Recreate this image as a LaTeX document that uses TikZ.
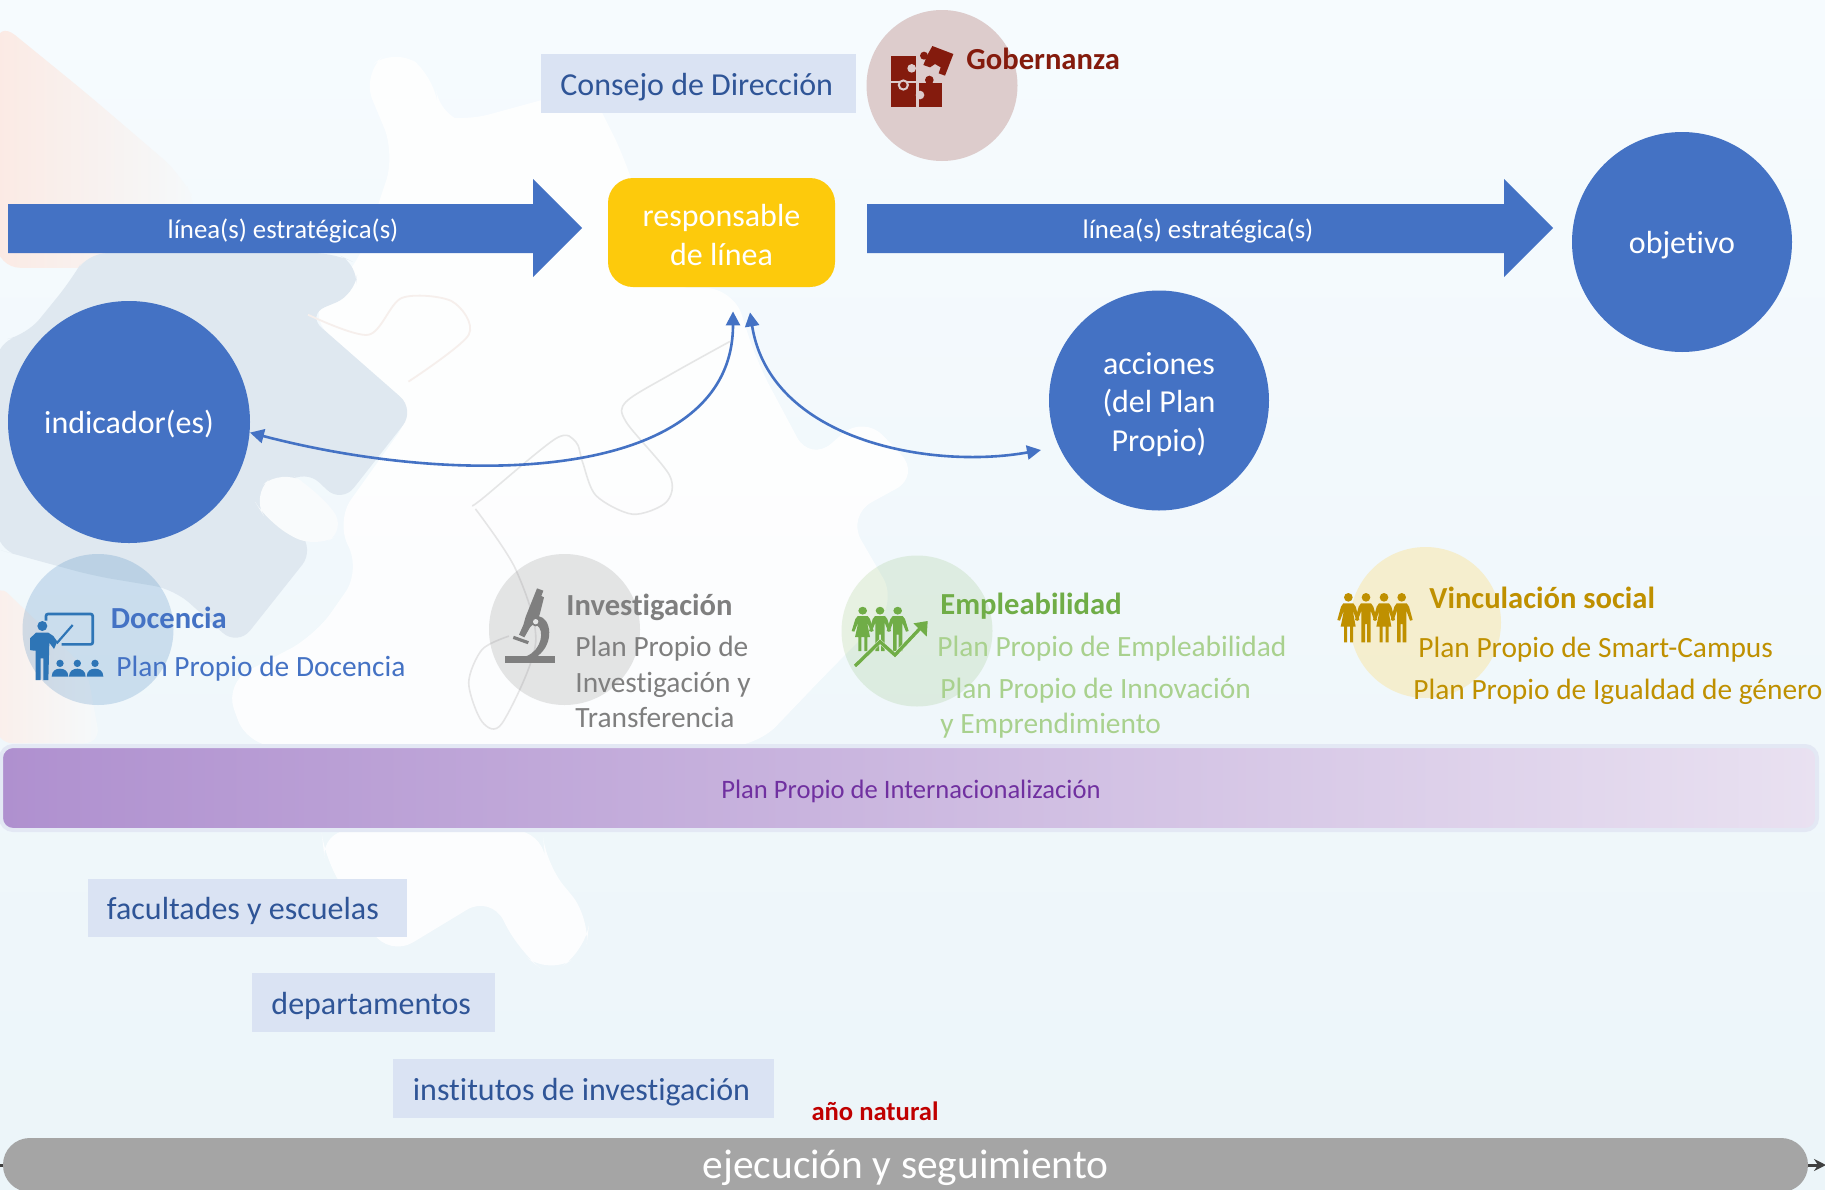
\documentclass[tikz,border=0pt]{standalone}
\usepackage{fontspec}
\setmainfont[Ligatures=NoCommon]{Carlito}
\usetikzlibrary{arrows.meta,calc}
\definecolor{mblue}{HTML}{4472C4}
\definecolor{boxfill}{HTML}{DAE3F3}
\definecolor{boxtext}{HTML}{2F5597}
\definecolor{ambar}{HTML}{FDCA0C}
\definecolor{gobred}{HTML}{841B0D}
\definecolor{teach}{HTML}{2E75B6}
\definecolor{micro}{HTML}{7F7F7F}
\definecolor{emp}{HTML}{70AD47}
\definecolor{empl}{HTML}{A9D18E}
\definecolor{vinc}{HTML}{BF9000}
\definecolor{purp}{HTML}{7030A0}
\definecolor{F6FBFE}{HTML}{F6FBFE}
\definecolor{ECF5F9}{HTML}{ECF5F9}
\definecolor{FBE6DE}{HTML}{FBEAE4}
\definecolor{FBEFEA}{HTML}{FAEFEB}
\definecolor{F5F8F9}{HTML}{F5F9FB}
\definecolor{DFE8F0}{HTML}{DFE8F0}
\definecolor{F9FBFC}{HTML}{F9FBFC}
\definecolor{FFD966}{HTML}{FFD966}
\definecolor{E3E8F4}{HTML}{E3E8F4}
\definecolor{AF90CF}{HTML}{AF90CF}
\definecolor{E9E1F1}{HTML}{E9E1F1}
\definecolor{C00000}{HTML}{C00000}
\definecolor{A5A5A5}{HTML}{A5A5A5}
\definecolor{DFCFCE}{HTML}{DDCCCC}
\definecolor{E5E6E6}{HTML}{E5E6E6}
\definecolor{EAF3E9}{HTML}{EAF3E9}
\definecolor{F3E6E2}{HTML}{F6EFEC}
\tikzset{
  bluecirc/.style={circle,fill=mblue,text=white,inner sep=0pt,minimum size=110pt,font=\fontsize{16}{19.2}\selectfont},
  lightbox/.style={rectangle,fill=boxfill,text=boxtext,inner sep=0pt,text height=15pt,text depth=3.5pt,font=\fontsize{16}{19}\selectfont},
  halo/.style={circle,inner sep=0pt,minimum size=75.5pt},
  headtxt/.style={anchor=base west,inner sep=0pt,yshift=-.75pt,font=\fontsize{15.3}{18}\selectfont\bfseries},
  plantxt/.style={anchor=base west,inner sep=0pt,yshift=-.75pt,font=\fontsize{14.7}{18}\selectfont},
  bigarrow/.style={fill=mblue},
  arrowlabel/.style={text=white,inner sep=0pt,text height=12.5pt,text depth=3pt,font=\fontsize{13.4}{16}\selectfont},
  twoway/.style={mblue,line width=1.3pt,{Triangle[length=7pt,width=7pt]}-{Triangle[length=7pt,width=7pt]}},
  bgline/.style={draw=black!12,line width=.8pt,opacity=.8}
}
\newcommand{\figwoman}[3]{\begin{scope}[shift={(#1,#2)},#3]
\fill (0,0) circle (13);
\fill (-15,18) -- (15,18) -- (22,28) -- (33,68) -- (25,70) -- (13,38) -- (22,88) -- (14,88) -- (14,135) -- (5,135) -- (5,88) -- (-4,88) -- (-4,135) -- (-13,135) -- (-13,88) -- (-23,88) -- (-13,38) -- (-25,70) -- (-33,68) -- (-22,28) -- cycle;
\end{scope}}
\newcommand{\figman}[3]{\begin{scope}[shift={(#1,#2)},#3]
\fill (0,0) circle (13);
\fill (-15,18) -- (15,18) -- (22,28) -- (33,68) -- (25,70) -- (14,40) -- (14,135) -- (3,135) -- (3,80) -- (-3,80) -- (-3,135) -- (-14,135) -- (-14,40) -- (-25,70) -- (-33,68) -- (-22,28) -- cycle;
\end{scope}}
\newcommand{\stacked}[2]{\raisebox{0pt}[\dimexpr\height+#1\relax][\depth]{\begin{tabular}{@{}c@{}}#2\end{tabular}}}
\begin{document}
\begin{tikzpicture}[x=0.5pt,y=-0.5pt]
\useasboundingbox (0,0) rectangle (1825,1189);
\clip (0,0) rectangle (1825,1189);
% background
\shade[top color=F6FBFE,bottom color=ECF5F9] (0,0) rectangle (1825,1189);
% puzzle pieces, in coordinates of a 1050px square at 1.4933x
\begin{scope}[x=0.3348pt,y=-0.3348pt]
\shade[left color=FBE6DE,right color=F5F8F9,rounded corners=12pt] (-5,30) -- (130,140) -- (270,260) -- (295,310) -- (285,400) -- (-5,400) -- cycle;
\shade[left color=FBEFEA,right color=F5F8F9,rounded corners=8pt] (-5,870) -- (130,1000) -- (150,1110) -- (-5,1110) -- cycle;
\fill[white,opacity=.85,rounded corners=14pt] (540,110) -- (590,70) -- (650,115) -- (655,175) -- (690,182) -- (880,130) -- (935,240) -- (990,430) -- (1095,430) -- (1130,540) -- (1210,690) -- (1290,620) -- (1375,710) -- (1265,770) -- (1340,900) -- (1240,1000) -- (1130,1115) -- (370,1115) -- (335,1020) -- (470,950) -- (540,850) -- (500,780) -- (620,612) -- (458,470) -- (535,395) -- (590,230) -- cycle;
\fill[white,opacity=.85,rounded corners=14pt] (480,1240) -- (810,1240) -- (815,1290) -- (881,1370) -- (875,1420) -- (819,1456) -- (775,1420) -- (733,1337) -- (581,1429) -- (485,1284) -- cycle;
\fill[DFE8F0,rounded corners=10pt] (105,420) -- (130,378) -- (500,378) -- (535,395) -- (530,440) -- (458,470) -- (620,612) -- (510,752) -- (455,700) -- (400,745) -- (470,820) -- (355,965) -- (260,880) -- (140,860) -- (30,830) -- (-5,820) -- (-5,510) -- (40,500) -- cycle;
\fill[F9FBFC,rounded corners=12pt] (375,740) -- (420,700) -- (470,730) -- (520,790) -- (470,820) -- (400,780) -- cycle;
\draw[bgline] plot[smooth] coordinates {(1090,510) (1000,560) (935,600) (935,630) (1000,710) (995,750) (945,768) (890,740) (870,690) (860,660) (830,655) (720,745) (705,755)};
\draw[bgline] plot[smooth] coordinates {(710,760) (770,850) (800,960) (750,1080) (720,1078) (700,1020) (720,970) (760,950)};
\draw[F3E6E2,line width=.9pt] plot[smooth] coordinates {(460,470) (550,500) (600,445) (675,450) (700,500) (610,570)};
\end{scope}
% halo circles
\node[halo,fill=DFCFCE] (cgob) at (942,85.5) {};
\node[halo,fill=teach,fill opacity=.2] (cdoc) at (98,629.5) {};
\node[halo,fill=black!55,fill opacity=.18] (cinv) at (564.5,629.5) {};
\node[halo,fill=emp,fill opacity=.15] (cemp) at (917,631) {};
\node[halo,fill=FFD966,fill opacity=.3] (cvin) at (1425.5,622.5) {};
% band with gradient
\node[rectangle,rounded corners=6pt,draw=E3E8F4,line width=2pt,left color=AF90CF,right color=E9E1F1,minimum width=908pt,minimum height=42pt,inner sep=0pt,text=purp,text height=13.5pt,text depth=3pt,font=\fontsize{13.3}{16}\selectfont] (inter) at (909,788) {\kern2pt Plan Propio de Internacionalización};
% boxes
\node[lightbox,minimum width=157.5pt,minimum height=29.5pt] (consejo) at (698.5,83.5) {Consejo de Dirección\kern1.8pt};
\node[lightbox,minimum width=159.5pt,minimum height=29pt] (fac) at (247.5,908) {facultades y escuelas\kern4.6pt};
\node[lightbox,minimum width=121.5pt,minimum height=29.5pt] (dep) at (373.5,1002.5) {departamentos\kern2.3pt};
\node[lightbox,minimum width=190.5pt,minimum height=29.5pt] (inst) at (583.5,1088.5) {institutos de investigación\kern2pt};
% big arrows
\fill[bigarrow] (8,204) -- (533,204) -- (533,179) -- (582,228) -- (533,277) -- (533,253) -- (8,253) -- cycle;
\fill[bigarrow] (867,204) -- (1504,204) -- (1504,179) -- (1553,228) -- (1504,277) -- (1504,253) -- (867,253) -- cycle;
\node[arrowlabel] (la) at (283,229) {línea(s) estratégica(s)};
\node[arrowlabel] (lb) at (1198,229) {línea(s) estratégica(s)};
% main nodes
\node[rectangle,rounded corners=12.5pt,fill=ambar,text=white,minimum width=113.5pt,minimum height=54.5pt,inner sep=0pt,font=\fontsize{16}{19.4}\selectfont] (resp) at (721.5,232.5) {\stacked{5.8pt}{responsable\\de línea}};
\node[bluecirc,minimum size=121pt,text height=15pt,text depth=3.5pt] (ind) at (129,422) {indicador(es)};
\node[bluecirc,text height=15pt,text depth=3.5pt] (obj) at (1682,242) {objetivo};
\node[bluecirc] (acc) at (1159,400.5) {\stacked{4.6pt}{acciones\\(del Plan\\Propio)}};
% connectors
\coordinate (r1) at ([xshift=5.75pt,yshift=-12pt]resp.south);
\coordinate (r2) at ([xshift=14.25pt,yshift=-12.5pt]resp.south);
\coordinate (a1) at (1041,450);
\draw[twoway] (r1) .. controls (733,480) and (470,490) .. (ind.-5);
\draw[twoway] (r2) .. controls (770,440) and (930,470) .. (a1);
% texts
\node[headtxt,text=gobred] (tgob) at (966,68) {Gobernanza};
\node[headtxt,text=mblue] (tdoc) at (110.5,627) {Docencia};
\node[plantxt,text=mblue] (pdoc) at (116,675) {Plan Propio de Docencia};
\node[headtxt,text=micro] (tinv) at (566,614) {Investigación};
\node[plantxt,text=micro] (pinv1) at (575,655) {Plan Propio de};
\node[plantxt,text=micro] (pinv2) at (575,691) {Investigación y};
\node[plantxt,text=micro] (pinv3) at (575,726) {Transferencia};
\node[headtxt,text=emp] (temp) at (940,613) {Empleabilidad};
\node[plantxt,text=empl] (pemp1) at (937,655) {Plan Propio de Empleabilidad};
\node[plantxt,text=empl] (pemp2) at (940,697) {Plan Propio de Innovación};
\node[plantxt,text=empl] (pemp3) at (940,732) {y Emprendimiento};
\node[headtxt,text=vinc] (tvin) at (1429,607) {Vinculación social};
\node[plantxt,text=vinc] (pvin1) at (1418,656) {Plan Propio de Smart-Campus};
\node[plantxt,text=vinc] (pvin2) at (1413,698) {Plan Propio de Igualdad de género};
\node[inner sep=0pt,text=C00000,font=\fontsize{13.3}{16}\selectfont\bfseries] (anio) at (875,1111) {año natural};
% timeline
\coordinate (tl) at (0,1165);
\coordinate (tr) at (1826,1165);
\draw[-{Stealth[length=6pt,width=6pt]},line width=1.5pt,color=black!75] (tl) -- (tr);
\node[rectangle,rounded corners=13.4pt,fill=A5A5A5,text=white,minimum width=902.5pt,minimum height=27pt,inner sep=0pt,text height=17.5pt,text depth=4.5pt,font=\fontsize{20.7}{24}\selectfont] (ejec) at (905.5,1165) {ejecución y seguimiento};
% puzzle icon
\begin{scope}[shift={(870,30)},x=0.1667pt,y=-0.1667pt]
\fill[gobred] (63,78) rectangle (138,152);
\fill[DFCFCE] (125,115) circle (13);
\fill[gobred] (63,160) rectangle (138,230);
\fill[DFCFCE] (100,165) circle (17);
\fill[gobred] (100,165) circle (10);
\fill[gobred] (147,160) rectangle (215,230);
\fill[gobred] (178,150) circle (13);
\fill[DFCFCE] (150,195) circle (13);
\fill[gobred] (187,48) -- (250,72) -- (225,137) -- (206,130) -- (212,112) -- (195,102) -- (180,112) -- (160,105) -- (172,75) -- cycle;
\fill[gobred] (162,77) circle (12);
\end{scope}
% teacher icon
\begin{scope}[shift={(20,600)},x=0.1667pt,y=-0.1667pt,color=teach]
\draw[line width=1.35pt,rounded corners=1pt] (78,62) -- (78,42) -- (218,42) -- (218,133) -- (125,133);
\draw[line width=1.1pt] (110,130) -- (158,75);
\fill (67,78) circle (15);
\fill (30,150) -- (30,115) -- (48,98) -- (85,98) -- (100,108) -- (112,125) -- (102,147) -- (88,128) -- (85,240) -- (70,240) -- (70,175) -- (62,175) -- (62,240) -- (47,240) -- (47,152) -- (42,152) -- cycle;
\foreach \i in {120,172,225}{
  \fill (\i,190) circle (11);
  \fill (\i-25,230) .. controls (\i-25,212) and (\i-12,206) .. (\i,206) .. controls (\i+12,206) and (\i+25,212) .. (\i+25,230) -- cycle;
}
\end{scope}
% microscope icon
\begin{scope}[shift={(495,580)},x=0.1667pt,y=-0.1667pt,color=micro]
\fill (126,25) -- (145,32) -- (139,48) -- (147,52) -- (135,100) -- (128,120) -- (105,142) -- (88,172) -- (72,164) -- (85,135) -- (92,110) -- cycle;
\fill (30,228) rectangle (180,248);
\fill (130,108) .. controls (170,115) and (178,190) .. (128,228) -- (95,228) .. controls (140,210) and (150,150) .. (125,135) -- cycle;
\fill (122,125) circle (14);
\fill[E5E6E6] (122,125) circle (8);
\draw[line width=1.6pt] (55,172) -- (100,188);
\end{scope}
% green people and trend
\begin{scope}[shift={(845,595)},x=0.1667pt,y=-0.1667pt,color=emp]
\figwoman{53}{47}{yscale=.9}
\figman{105}{47}{yscale=.9}
\figman{158}{47}{yscale=.9}
\draw[line width=2.1pt,color=EAF3E9,line join=miter] (30,213) -- (105,140) -- (150,180) -- (235,90);
\draw[line width=1.7pt,line join=miter] (30,213) -- (105,140) -- (150,180) -- (230,95);
\fill (248,78) -- (205,85) -- (245,125) -- cycle;
\end{scope}
% yellow people
\begin{scope}[shift={(1330,585)},x=0.1667pt,y=-0.1667pt,color=vinc]
\figwoman{55}{37}{}
\figman{108}{37}{}
\figwoman{162}{37}{}
\figman{215}{37}{}
\end{scope}
\end{tikzpicture}
\end{document}
